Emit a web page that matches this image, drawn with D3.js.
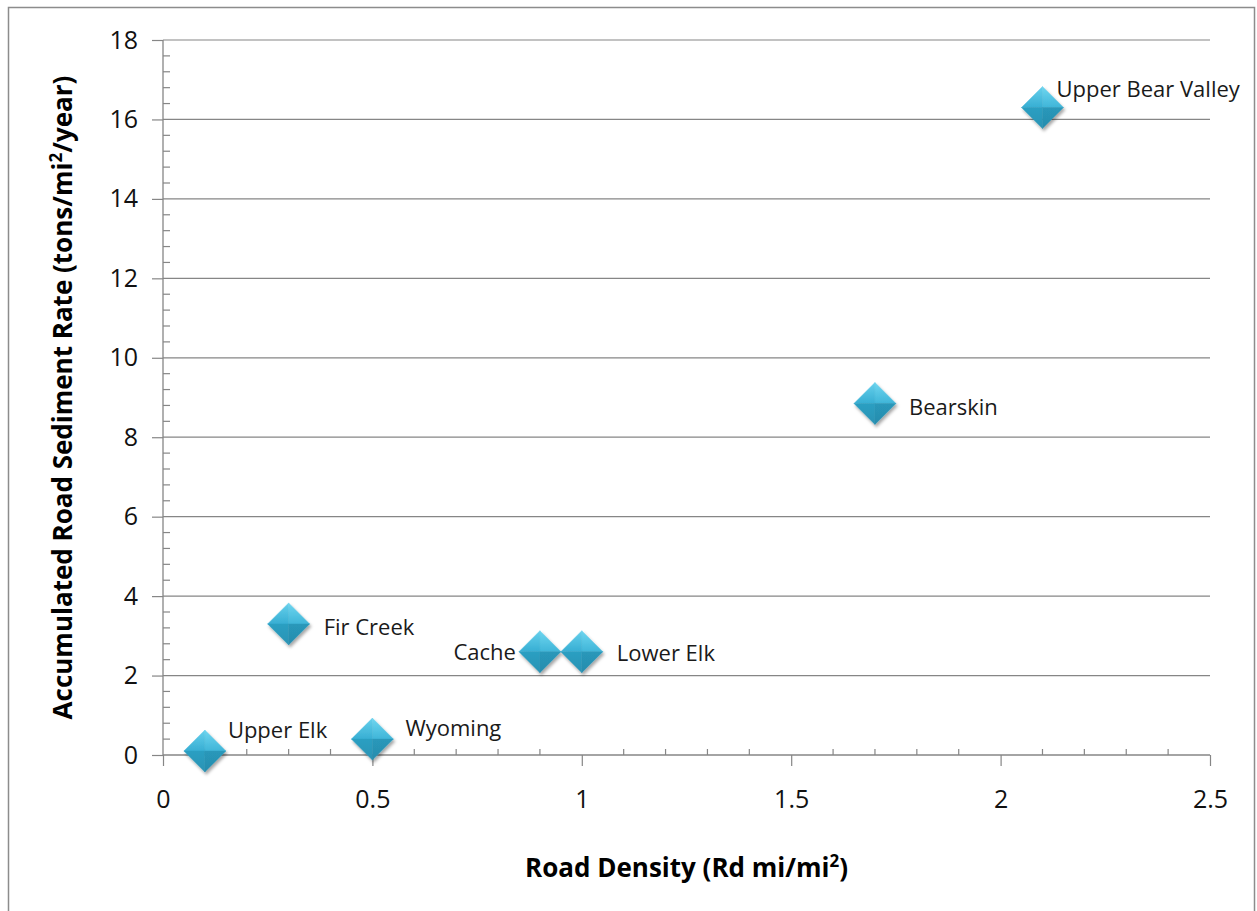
<!DOCTYPE html>
<html>
<head>
<meta charset="utf-8">
<script src="https://cdn.jsdelivr.net/npm/d3@7"></script>
<style>
  body { margin: 0; background: #fff; }
  text { font-family: "Open Sans", sans-serif; }
</style>
</head>
<body>
<div id="chart"></div>
<script>
const sites = ["Upper Elk", "Wyoming", "Fir Creek", "Cache", "Lower Elk", "Bearskin", "Upper Bear Valley"];
const roadDensity = [0.1, 0.5, 0.3, 0.9, 1.0, 1.7, 2.1];
const sedimentRate = [0.1, 0.4, 3.3, 2.6, 2.6, 8.85, 16.3];
const xTicks = [0, 0.5, 1, 1.5, 2, 2.5];
const yTicks = [0, 2, 4, 6, 8, 10, 12, 14, 16, 18];

// label placement per site (offsets from the marker)
const labelOffset = {
    "Upper Elk": [23, -21, "start"],
    "Wyoming": [33, -11, "start"],
    "Fir Creek": [35, 3, "start"],
    "Cache": [-24, 1, "end"],
    "Lower Elk": [35, 2, "start"],
    "Bearskin": [34, 4, "start"],
    "Upper Bear Valley": [14, -18, "start"]
};

const width = 1257, height = 911;
const margin = {left: 163, right: 47, top: 40, bottom: 156};

const svg = d3.select("#chart").append("svg")
    .attr("width", width)
    .attr("height", height);

svg.append("rect")
    .attr("x", 8.5).attr("y", 7.5)
    .attr("width", 1246).attr("height", 920)
    .attr("fill", "#fff")
    .attr("stroke", "#8c8c8c")
    .attr("stroke-width", 1.5);

const x = d3.scaleLinear().domain([0, 2.5]).range([margin.left, width - margin.right]);
const y = d3.scaleLinear().domain([0, 18]).range([height - margin.bottom, margin.top]);

const axisColor = "#868686";

// gridlines
svg.append("g")
    .selectAll("line")
    .data(yTicks.filter(d => d > 0))
    .enter().append("line")
    .attr("x1", x(0)).attr("x2", x(2.5))
    .attr("y1", d => y(d)).attr("y2", d => y(d))
    .attr("stroke", axisColor).attr("stroke-width", 1.2);

// y axis: major ticks outside, minor inside
const yAxis = svg.append("g").attr("transform", `translate(${x(0)},0)`)
    .call(d3.axisLeft(y).tickValues(yTicks).tickSize(11).tickPadding(14).tickFormat(d3.format("d")));
yAxis.append("g")
    .selectAll("line")
    .data(d3.range(0, 18.01, 0.4).filter(d => Math.abs(d / 2 - Math.round(d / 2)) > 0.01))
    .enter().append("line")
    .attr("x1", 0).attr("x2", 7)
    .attr("y1", d => y(d)).attr("y2", d => y(d));

// x axis
const xAxis = svg.append("g").attr("transform", `translate(0,${y(0)})`)
    .call(d3.axisBottom(x).tickValues(xTicks).tickSize(11).tickPadding(24).tickFormat(d3.format("")));
xAxis.append("g")
    .selectAll("line")
    .data(d3.range(0, 2.501, 0.1).filter(d => Math.abs(d * 2 - Math.round(d * 2)) > 0.01))
    .enter().append("line")
    .attr("x1", d => x(d)).attr("x2", d => x(d))
    .attr("y1", 0).attr("y2", -6);

[xAxis, yAxis].forEach(a => {
    a.attr("font-family", "'Open Sans', sans-serif").attr("font-size", 25);
    a.select(".domain").attr("stroke", axisColor).attr("stroke-width", 1.3)
        .attr("d", a === xAxis ? `M${x(0)},0H${x(2.5)}` : `M0,${y(0)}V${y(18)}`);
    a.selectAll("line").attr("stroke", axisColor).attr("stroke-width", 1.2);
    a.selectAll("text").attr("fill", "#111");
});

// axis titles
svg.append("text")
    .attr("x", (x(0) + x(2.5)) / 2)
    .attr("y", 877)
    .attr("text-anchor", "middle")
    .style("font-size", "26px")
    .style("font-weight", "bold")
    .html("Road Density (Rd mi/mi<tspan dy='-10' font-size='17'>2</tspan><tspan dy='10'>)</tspan>");

svg.append("text")
    .attr("transform", `translate(72,${(y(0) + y(18)) / 2}) rotate(-90)`)
    .attr("text-anchor", "middle")
    .style("font-size", "26px")
    .style("font-weight", "bold")
    .html("Accumulated Road Sediment Rate (tons/mi<tspan dy='-10' font-size='17'>2</tspan><tspan dy='10'>/year)</tspan>");

// markers
const defs = svg.append("defs");
const filt = defs.append("filter").attr("id", "shadow").attr("x", "-50%").attr("y", "-50%").attr("width", "200%").attr("height", "200%");
filt.append("feDropShadow").attr("dx", 1.5).attr("dy", 2.5).attr("stdDeviation", 1.8)
    .attr("flood-color", "#000").attr("flood-opacity", 0.35);

function grad(id, c1, c2) {
    const g = defs.append("linearGradient").attr("id", id)
        .attr("x1", 0).attr("y1", 0).attr("x2", 0).attr("y2", 1);
    g.append("stop").attr("offset", "0%").attr("stop-color", c1);
    g.append("stop").attr("offset", "100%").attr("stop-color", c2);
}
grad("topR", "#6fd6f0", "#3fb5d8");
grad("topL", "#66d0ec", "#37aed3");
grad("botL", "#2c9fc2", "#2a93b4");
grad("botR", "#2998ba", "#278cad");

const points = sites.map((s, i) => ({name: s, x: roadDensity[i], y: sedimentRate[i]}));
const r = 21;
const facets = [
    {d: `M0,${-r}L${r},0L0,0Z`, c: "url(#topR)"},
    {d: `M0,${-r}L${-r},0L0,0Z`, c: "url(#topL)"},
    {d: `M${-r},0L0,${r}L0,0Z`, c: "url(#botL)"},
    {d: `M${r},0L0,${r}L0,0Z`, c: "url(#botR)"}
];

const marks = svg.append("g").selectAll("g")
    .data(points)
    .enter().append("g")
    .attr("transform", d => `translate(${x(d.x)},${y(d.y)})`)
    .attr("filter", "url(#shadow)");
marks.selectAll("path")
    .data(facets)
    .enter().append("path")
    .attr("d", f => f.d)
    .attr("fill", f => f.c)
    .attr("stroke", f => f.c)
    .attr("stroke-width", 0.4);

// labels
svg.append("g").selectAll("text")
    .data(points)
    .enter().append("text")
    .attr("x", d => x(d.x) + labelOffset[d.name][0])
    .attr("y", d => y(d.y) + labelOffset[d.name][1])
    .attr("dy", "0.35em")
    .attr("text-anchor", d => labelOffset[d.name][2])
    .style("font-size", "22px")
    .attr("fill", "#1a1a1a")
    .text(d => d.name);
</script>
</body>
</html>
